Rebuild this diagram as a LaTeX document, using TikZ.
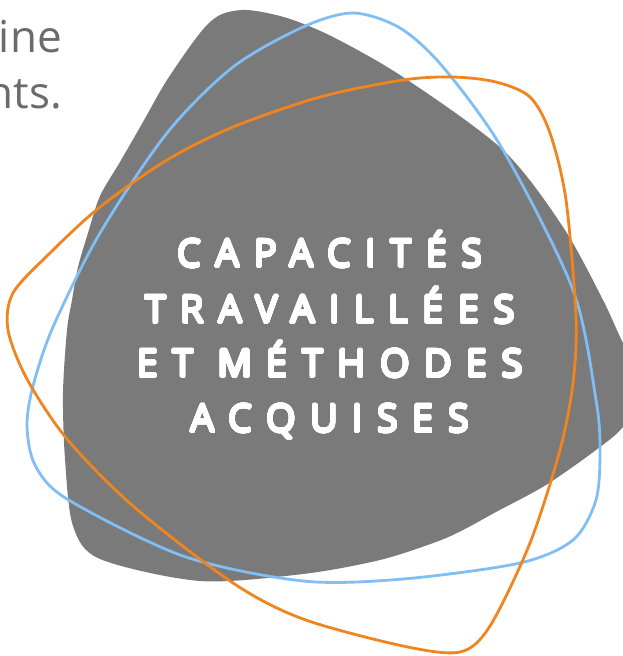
\documentclass[tikz,border=0pt]{standalone}
\usepackage{fontspec}
\usepackage{contour}
\setmainfont{Open Sans}
\newfontfamily\titolofont[LetterSpace=38]{Open Sans}
\contourlength{1.1pt}
\contournumber{32}
\definecolor{grigio}{HTML}{7A7A7A}
\definecolor{blu}{HTML}{80BEF5}
\definecolor{arancio}{HTML}{F0841F}
\definecolor{testo}{HTML}{6B6B6B}
\newcommand{\spesso}[1]{\contour{white}{#1}}

\begin{document}
\begin{tikzpicture}[x=1pt,y=-1pt,
  contorno/.style={line width=2.8pt},
  titolo/.style={anchor=base,inner sep=0pt,text=white,font=\titolofont\fontsize{38}{46}\selectfont},
  corpo/.style={anchor=base east,inner sep=0pt,text=testo,font=\fontsize{44}{50}\selectfont}]
\useasboundingbox (0,0) rectangle (623,656);
\clip (0,0) rectangle (623,656);

% Testo in alto a sinistra
\node[corpo] (riga1) at (62,52) {ine};
\node[corpo] (riga2) at (62,108) {nts.};

% Forma grigia
\fill[grigio] plot[smooth cycle] coordinates {(247,10) (287,18) (333,37) (403,77)
  (503,150) (563,227) (603,300) (623,343) (648,388) (623,427) (596,450) (546,485)
  (496,512) (463,530) (436,542) (380,560) (303,574) (200,581) (100,559) (73,526)
  (65,459) (63,393) (67,330) (72,300) (78,267) (88,233) (100,196) (120,162)
  (143,122) (167,80) (200,33) (220,15)};

% Contorno blu
\draw[contorno,blu] plot[smooth cycle] coordinates {(353,13) (400,28) (443,67)
  (503,150) (573,290) (596,400) (600,450) (596,500) (573,540) (520,563) (403,579)
  (303,581) (183,556) (67,499) (35,465) (27,426) (33,386) (53,327) (100,233)
  (167,133) (233,67) (303,27)};

% Contorno arancione
\draw[contorno,arancio] plot[smooth cycle] coordinates {(453,77) (496,82) (530,97)
  (550,133) (566,200) (576,317) (573,383) (560,450) (530,543) (490,626) (460,652)
  (403,646) (303,619) (233,583) (133,506) (67,439) (27,379) (8,330) (13,293)
  (50,253) (100,207) (167,160) (233,127) (320,97) (403,80)};

% Titolo
\node[titolo] (cap) at (330,267) {\spesso{CAPACITÉS}};
\node[titolo] (trav) at (330,323) {\spesso{TRAVAILLÉES}};
\node[titolo] (meth) at (330,377) {\spesso{ET MÉTHODES}};
\node[titolo] (acq) at (330,432) {\spesso{ACQUISES}};
\end{tikzpicture}
\end{document}
